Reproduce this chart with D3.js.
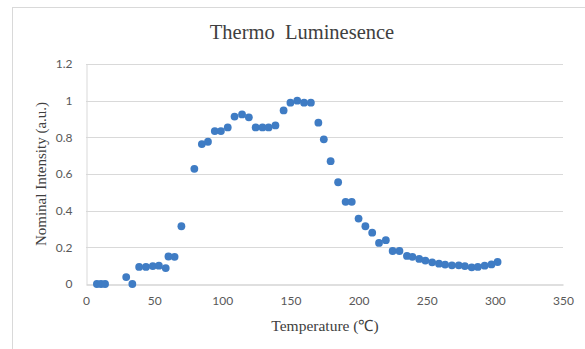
<!DOCTYPE html>
<html>
<head>
<meta charset="utf-8">
<script src="https://cdn.jsdelivr.net/npm/d3@7"></script>
<style>
  html, body { margin: 0; padding: 0; background: #fff; }
  svg { display: block; }
</style>
</head>
<body>
<svg id="chart" width="585" height="349"></svg>
<script>
// Temperature (°C) of each reading
const temperature = [8, 11, 14, 29.5, 34, 39, 44, 49, 53.5, 58.5, 60.5, 65, 70,
  79.5, 85, 89.5, 94.5, 99, 104, 109, 114.5, 119.5, 124.5, 129.5, 134, 139,
  145, 150, 155, 160, 165, 170.5, 174.5, 179.5, 185, 190.5, 195, 200, 205,
  210, 215, 220, 225, 230, 235.5, 239.5, 244.5, 249, 254, 259, 263.5, 268.5,
  273.5, 278, 283, 287.5, 292.5, 297.5, 302];
// Normalised luminescence intensity at each temperature
const intensity = [0, 0, 0, 0.038, 0, 0.093, 0.093, 0.098, 0.10, 0.087, 0.15, 0.148, 0.315,
  0.628, 0.763, 0.776, 0.834, 0.834, 0.854, 0.913, 0.925, 0.909, 0.854, 0.854, 0.854, 0.865,
  0.947, 0.989, 1.0, 0.989, 0.989, 0.88, 0.789, 0.67, 0.555, 0.448, 0.448, 0.357, 0.315,
  0.28, 0.224, 0.239, 0.18, 0.18, 0.153, 0.148, 0.137, 0.128, 0.118, 0.111, 0.106, 0.102,
  0.102, 0.098, 0.091, 0.093, 0.100, 0.107, 0.12];
const xTicks = [0, 50, 100, 150, 200, 250, 300, 350];
const yTicks = [0, 0.2, 0.4, 0.6, 0.8, 1, 1.2];
const titleText = "Thermo  Luminesence";
const xTitle = "Temperature (℃)";
const yTitle = "Nominal Intensity (a.u.)";

const svg = d3.select("#chart");
const plot = { left: 86, right: 563, top: 64, bottom: 284 };

const x = d3.scaleLinear().domain([0, 350]).range([plot.left, plot.right]);
const y = d3.scaleLinear().domain([0, 1.2]).range([plot.bottom, plot.top]);

// chart frame
svg.append("rect")
  .attr("x", 12.5).attr("y", 7.5).attr("width", 620).attr("height", 380)
  .attr("fill", "#fff").attr("stroke", "#d9d9d9").attr("stroke-width", 1);

// horizontal gridlines
svg.append("g").selectAll("line").data(yTicks.filter(d => d > 0)).join("line")
  .attr("x1", plot.left).attr("x2", plot.right)
  .attr("y1", d => Math.round(y(d)) + 0.5).attr("y2", d => Math.round(y(d)) + 0.5)
  .attr("stroke", "#d9d9d9").attr("stroke-width", 1);

// y axis
const yAxis = svg.append("g")
  .attr("transform", `translate(${plot.left + 0.5},0)`)
  .call(d3.axisLeft(y).tickValues(yTicks).tickSize(0).tickPadding(14)
    .tickFormat(d => d3.format("")(+d.toFixed(1))));
yAxis.select(".domain").attr("stroke", "#d9d9d9");
yAxis.selectAll("text")
  .attr("fill", "#595959").attr("font-family", "Lato, sans-serif").attr("font-size", 12);

// x axis
const xAxis = svg.append("g")
  .attr("transform", `translate(0,${plot.bottom + 0.5})`)
  .call(d3.axisBottom(x).tickValues(xTicks).tickSize(0).tickPadding(12));
xAxis.select(".domain").attr("stroke", "#bfbfbf");
xAxis.selectAll("text")
  .attr("fill", "#595959").attr("font-family", "Lato, sans-serif").attr("font-size", 12);

// data points
svg.append("g").selectAll("circle").data(d3.range(temperature.length)).join("circle")
  .attr("cx", i => x(temperature[i]))
  .attr("cy", i => y(intensity[i]))
  .attr("r", 3.9)
  .attr("fill", "#3f7cc4");

// titles
svg.append("text")
  .attr("x", 302).attr("y", 39)
  .attr("text-anchor", "middle")
  .attr("font-family", "'Liberation Serif', serif").attr("font-size", 20.5)
  .attr("fill", "#404040")
  .style("white-space", "pre")
  .text(titleText);

svg.append("text")
  .attr("x", 325).attr("y", 331)
  .attr("text-anchor", "middle")
  .attr("font-family", "'Liberation Serif', serif").attr("font-size", 15.5)
  .attr("fill", "#404040")
  .text(xTitle);

svg.append("text")
  .attr("transform", `translate(46,${(plot.top + plot.bottom) / 2}) rotate(-90)`)
  .attr("text-anchor", "middle")
  .attr("font-family", "'Liberation Serif', serif").attr("font-size", 15)
  .attr("fill", "#404040")
  .text(yTitle);
</script>
</body>
</html>
